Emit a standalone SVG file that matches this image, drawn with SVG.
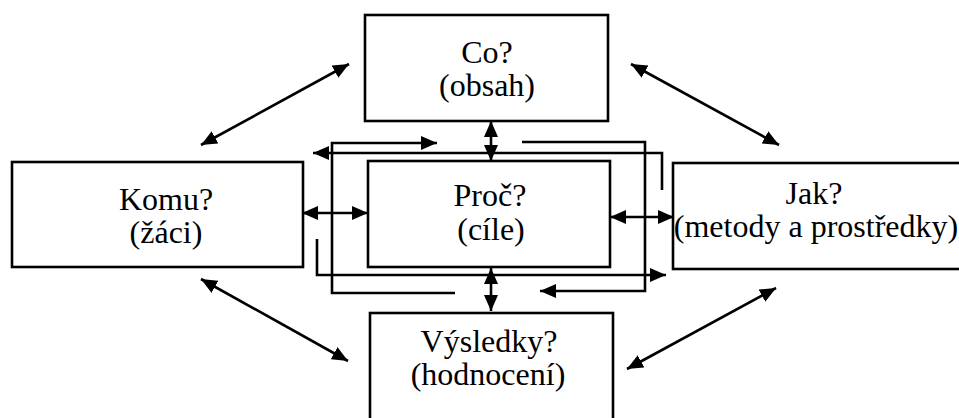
<svg xmlns="http://www.w3.org/2000/svg" width="959" height="418" viewBox="0 0 959 418">
<defs>
<marker id="ah" markerUnits="userSpaceOnUse" markerWidth="17" markerHeight="14" refX="16" refY="7" orient="auto-start-reverse">
<path d="M0,0 L16,7 L0,14 z" fill="#000"/>
</marker>
<style>
.box{fill:#fff;stroke:#000;stroke-width:2.6}
.ln{fill:none;stroke:#000;stroke-width:2.6}
.dbl{marker-start:url(#ah);marker-end:url(#ah)}
.one{marker-end:url(#ah)}
.t{font-family:'Times New Roman','Liberation Serif','DejaVu Serif',Times,serif;font-size:32px;fill:#000;text-anchor:middle}
</style>
</defs>
<rect width="959" height="418" fill="#fff"/>
<g id="co">
<rect class="box" x="365" y="15" width="243" height="106"/>
<text class="t" x="487" y="63">Co?</text>
<text class="t" x="487" y="96">(obsah)</text>
</g>
<g id="komu">
<rect class="box" x="12" y="162" width="291" height="105"/>
<text class="t" x="166" y="210">Komu?</text>
<text class="t" x="166" y="243">(žáci)</text>
</g>
<g id="proc">
<rect class="box" x="368" y="161" width="242" height="106"/>
<text class="t" x="490" y="206">Proč?</text>
<text class="t" x="491" y="240">(cíle)</text>
</g>
<g id="jak">
<rect class="box" x="673" y="163" width="300" height="106"/>
<text class="t" x="814" y="204">Jak?</text>
<text class="t" x="816" y="237">(metody a prostředky)</text>
</g>
<g id="vysledky">
<rect class="box" x="370" y="313" width="243" height="120"/>
<text class="t" x="489" y="352">Výsledky?</text>
<text class="t" x="488" y="385">(hodnocení)</text>
</g>
<g id="connectors">
<line class="ln dbl" x1="201" y1="145" x2="349" y2="64"/>
<line class="ln dbl" x1="631" y1="64" x2="779" y2="145"/>
<line class="ln dbl" x1="201" y1="279" x2="348" y2="361"/>
<line class="ln dbl" x1="776" y1="288" x2="627" y2="369"/>
<line class="ln dbl" x1="491" y1="121" x2="491" y2="161"/>
<line class="ln dbl" x1="491" y1="268" x2="491" y2="311"/>
<line class="ln dbl" x1="302" y1="213" x2="368" y2="213"/>
<line class="ln dbl" x1="610" y1="217" x2="674" y2="217"/>
<path class="ln one" d="M455,293 H332 V143 H437"/>
<path class="ln one" d="M522,142 H645 V291 H540"/>
<path class="ln one" d="M662,190 V153 H313"/>
<path class="ln one" d="M317,239 V275 H666"/>
</g>
</svg>
